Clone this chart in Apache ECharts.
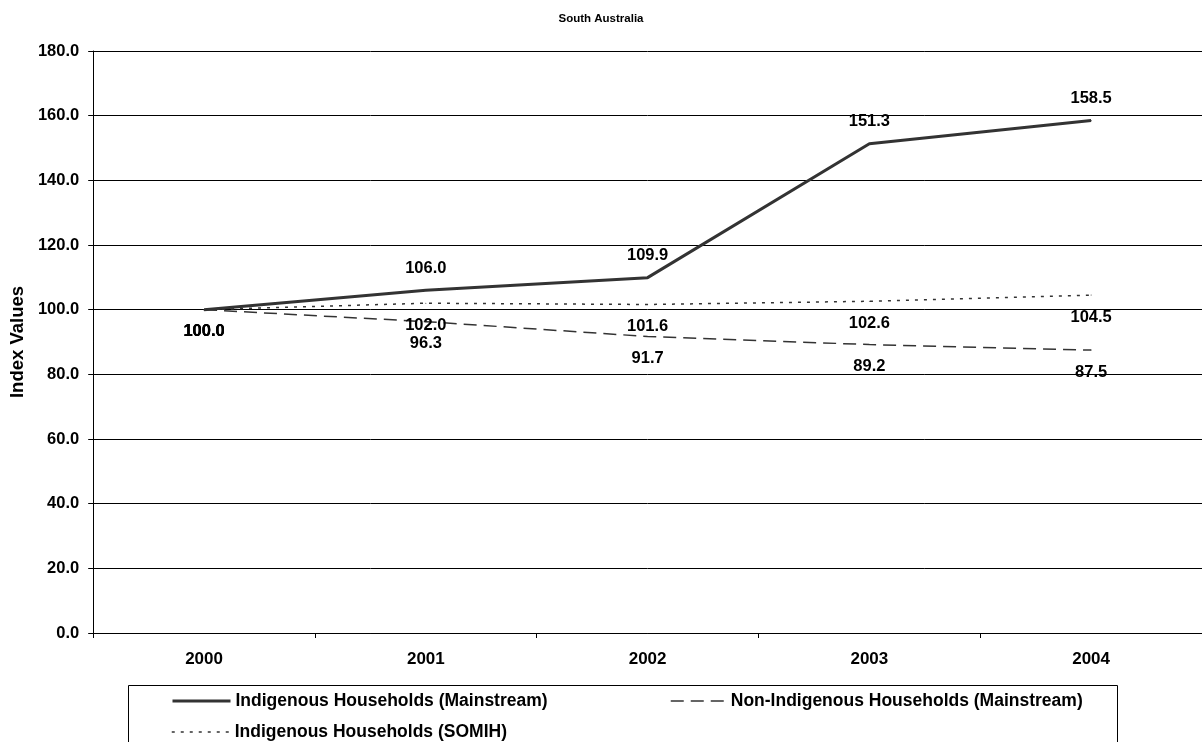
<!DOCTYPE html>
<html>
<head>
<meta charset="utf-8">
<script src="https://cdn.jsdelivr.net/npm/echarts@6/dist/echarts.min.js"></script>
<style>html,body{margin:0;padding:0;background:#fff}#c{width:1202px;height:742px}</style>
</head>
<body>
<div id="c"></div>
<script>
var years = ['2000', '2001', '2002', '2003', '2004'];
var indigMain = [100.0, 106.0, 109.9, 151.3, 158.5];
var nonIndigMain = [100.0, 96.3, 91.7, 89.2, 87.5];
var indigSomih = [100.0, 102.0, 101.6, 102.6, 104.5];
var seriesNames = ['Indigenous Households (Mainstream)', 'Non-Indigenous Households (Mainstream)', 'Indigenous Households (SOMIH)'];

var FONT = 'Liberation Sans, Arial, sans-serif';
function lbl(pos) {
  return {show: true, position: pos, fontFamily: FONT, fontWeight: 'bold', fontSize: 16.5, color: '#000', distance: 13,
    formatter: function (p) { return Number(p.value).toFixed(1); }};
}
var legText = {fontFamily: FONT, fontWeight: 'bold', fontSize: 17.5, color: '#000'};

var chart = echarts.init(document.getElementById('c'), null, {renderer: 'canvas'});
chart.setOption({
  backgroundColor: '#fff',
  animation: false,
  title: {text: 'South Australia', left: 'center', top: 8,
    textStyle: {fontFamily: FONT, fontWeight: 'bold', fontSize: 11.5, color: '#000'}},
  grid: {left: 92, top: 51, height: 582, width: 1114, containLabel: false},
  legend: [
    {left: 166, top: 687, itemWidth: 58, itemHeight: 18, data: [seriesNames[0]], textStyle: legText,
      itemStyle: {opacity: 0}, lineStyle: {width: 3}},
    {left: 665, top: 687, itemWidth: 55, itemHeight: 18, data: [seriesNames[1]], textStyle: legText,
      itemStyle: {opacity: 0}, lineStyle: {width: 1.5}},
    {left: 166, top: 718, itemWidth: 58, itemHeight: 18, data: [seriesNames[2]], textStyle: legText,
      itemStyle: {opacity: 0}, lineStyle: {width: 1.5}}
  ],
  graphic: [{type: 'rect', left: 126, top: 683, shape: {width: 989, height: 80},
    style: {fill: 'none', stroke: '#000', lineWidth: 1}, z: 0}],
  xAxis: {type: 'category', data: years, boundaryGap: true,
    axisLine: {lineStyle: {color: '#000', width: 1}},
    axisTick: {show: true, length: 5, lineStyle: {color: '#000'}},
    axisLabel: {fontFamily: FONT, fontWeight: 'bold', fontSize: 17, color: '#000', margin: 18},
    splitLine: {show: false}},
  yAxis: {type: 'value', min: 0, max: 180, interval: 20,
    name: 'Index Values', nameLocation: 'middle', nameGap: 63, nameRotate: 90,
    nameTextStyle: {fontFamily: FONT, fontWeight: 'bold', fontSize: 18.5, color: '#000'},
    axisLine: {show: true, lineStyle: {color: '#000', width: 1}},
    axisTick: {show: true, length: 5, lineStyle: {color: '#000'}},
    axisLabel: {fontFamily: FONT, fontWeight: 'bold', fontSize: 16.5, color: '#000', margin: 14,
      formatter: function (v) { return v.toFixed(1); }},
    splitLine: {show: true, lineStyle: {color: '#000', width: 1}}},
  series: [
    {name: seriesNames[0], type: 'line', symbol: 'circle', symbolSize: 1, showSymbol: true, z: 5,
      data: indigMain.map(function (v, i) { return i === 0 ? {value: v, label: {position: 'bottom'}} : v; }),
      lineStyle: {color: '#333', width: 3, type: 'solid'}, itemStyle: {color: '#333'},
      label: lbl('top')},
    {name: seriesNames[1], type: 'line', symbol: 'circle', symbolSize: 1, showSymbol: true, z: 4,
      data: nonIndigMain,
      lineStyle: {color: '#333', width: 1.5, type: [13, 7]}, itemStyle: {color: '#333'},
      label: lbl('bottom')},
    {name: seriesNames[2], type: 'line', symbol: 'circle', symbolSize: 1, showSymbol: true, z: 4,
      data: indigSomih,
      lineStyle: {color: '#333', width: 1.5, type: [3, 6]}, itemStyle: {color: '#333'},
      label: lbl('bottom')}
  ]
});
</script>
</body>
</html>
